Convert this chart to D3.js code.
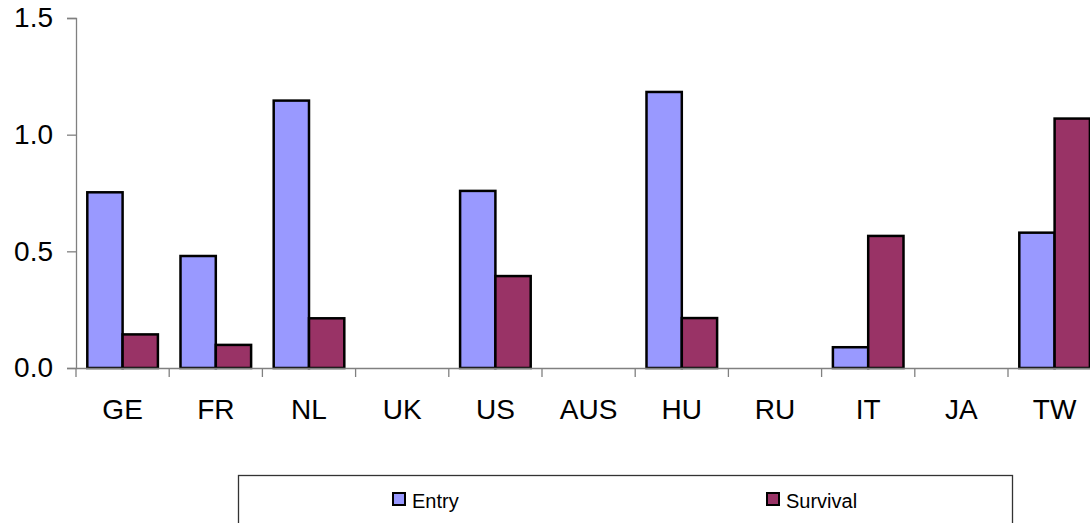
<!DOCTYPE html>
<html>
<head>
<meta charset="utf-8">
<script src="https://cdn.jsdelivr.net/npm/d3@7"></script>
<style>
  body { margin: 0; background: #fff; }
  svg { display: block; font-family: "Liberation Sans", Arial, sans-serif; }
</style>
</head>
<body>
<div id="graph"></div>
<script>
'use strict';

const countries = ['GE', 'FR', 'NL', 'UK', 'US', 'AUS', 'HU', 'RU', 'IT', 'JA', 'TW'];
const entry    = [0.753, 0.480, 1.146, 0, 0.759, 0, 1.183, 0, 0.089, 0, 0.580];
const survival = [0.144, 0.099, 0.213, 0, 0.394, 0, 0.214, 0, 0.566, 0, 1.069];
const yTicks = [0, 0.5, 1.0, 1.5];

const seriesNames = ['Entry', 'Survival'];
const colors = { Entry: '#9999FF', Survival: '#993366' };

const W = 1090, H = 523;
const FONT = '"Liberation Sans", Arial, sans-serif';

let svg = d3.select('#graph')
  .append('svg')
  .attr('width', W)
  .attr('height', H);

const left = 76, bandW = 93.2;
let xScale = d3.scaleBand()
  .domain(countries)
  .range([left, left + bandW * countries.length])
  .paddingInner(0).paddingOuter(0);

let xSub = d3.scaleBand()
  .domain(seriesNames)
  .range([0, bandW])
  .paddingInner(0)
  .paddingOuter(0.32);

let yScale = d3.scaleLinear()
  .domain([0, 1.5])
  .range([368, 18]);

let rows = countries.map((c, i) => ({ name: c, Entry: entry[i], Survival: survival[i] }));

// bars
let groups = svg.selectAll('.grp')
  .data(rows)
  .enter()
  .append('g')
  .attr('transform', d => `translate(${xScale(d.name)},0)`);

groups.selectAll('rect')
  .data(d => seriesNames.filter(s => d[s] > 0).map(s => ({ key: s, value: d[s] })))
  .enter()
  .append('rect')
  .attr('x', d => xSub(d.key))
  .attr('width', xSub.bandwidth())
  .attr('y', d => yScale(d.value))
  .attr('height', d => yScale(0) - yScale(d.value))
  .attr('fill', d => colors[d.key])
  .attr('stroke', '#000')
  .attr('stroke-width', 2.5);

// y axis
let yAxis = d3.axisLeft(yScale)
  .tickValues(yTicks)
  .tickFormat(d3.format('.1f'))
  .tickSize(9)
  .tickPadding(14);
let gy = svg.append('g')
  .attr('transform', `translate(${left},0)`)
  .call(yAxis);
gy.select('.domain').attr('stroke', '#808080').attr('stroke-width', 1.3);
gy.selectAll('.tick line').attr('stroke', '#808080').attr('stroke-width', 1.3);
gy.selectAll('.tick text')
  .attr('font-size', 28)
  .attr('fill', '#000')
  .attr('font-family', FONT);

// x axis
let xAxis = d3.axisBottom(xScale).tickSize(0).tickPadding(31);
let gx = svg.append('g')
  .attr('transform', `translate(0,${yScale(0)})`)
  .call(xAxis);
gx.select('.domain').attr('stroke', '#808080').attr('stroke-width', 1.3);
gx.selectAll('.tick text')
  .attr('font-size', 28)
  .attr('fill', '#000')
  .attr('font-family', FONT);

// category boundary ticks
let bounds = d3.range(countries.length + 1).map(i => left + i * bandW);
gx.selectAll('.bound')
  .data(bounds)
  .enter()
  .append('line')
  .attr('x1', d => d).attr('x2', d => d)
  .attr('y1', 0).attr('y2', 9)
  .attr('stroke', '#808080')
  .attr('stroke-width', 1.3);

// legend
let legend = svg.append('g');
legend.append('rect')
  .attr('x', 238.5).attr('y', 475.5)
  .attr('width', 774).attr('height', 60)
  .attr('fill', '#fff')
  .attr('stroke', '#333')
  .attr('stroke-width', 1.3);

const legendX = [393, 767];
seriesNames.forEach((s, i) => {
  legend.append('rect')
    .attr('x', legendX[i]).attr('y', 493)
    .attr('width', 12).attr('height', 12)
    .attr('fill', colors[s])
    .attr('stroke', '#000')
    .attr('stroke-width', 2);
  legend.append('text')
    .attr('x', legendX[i] + 19).attr('y', 507.5)
    .attr('font-size', 20)
    .text(s);
});
</script>
</body>
</html>
